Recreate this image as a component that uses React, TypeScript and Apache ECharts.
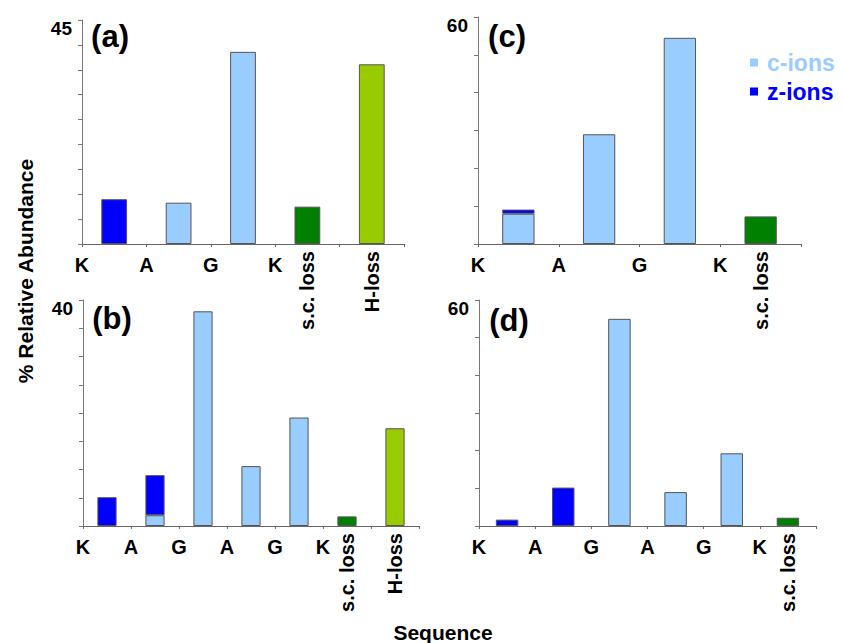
import React, { useEffect, useRef } from "react";
import * as echarts from "echarts";

const FONT = '"Liberation Sans", Arial, Helvetica, sans-serif';

// Panel (a)
const aLetters = ["K", "A", "G", "K"];
const aLabels = ["", "", "", "s.c. loss", "H-loss"];
const aC = [null, 8.3, 38.6, null, null];
const aZ = [9.0, null, null, null, null];
const aSC = [null, null, null, 7.5, null];
const aH = [null, null, null, null, 36.1];

// Panel (b)
const bLetters = ["K", "A", "G", "A", "G", "K"];
const bLabels = ["", "", "", "", "", "s.c. loss", "H-loss"];
const bC = [null, 1.9, 38.0, 10.6, 19.2, null, null];
const bZ = [5.1, 7.1, null, null, null, null, null];
const bSC = [null, null, null, null, null, 1.7, null];
const bH = [null, null, null, null, null, null, 17.3];

// Panel (c)
const cLetters = ["K", "A", "G", "K"];
const cLabels = ["", "", "", "s.c. loss"];
const cC = [8.0, 29.0, 54.5, null];
const cZ = [1.1, null, null, null];
const cSC = [null, null, null, 7.3];

// Panel (d)
const dLetters = ["K", "A", "G", "A", "G", "K"];
const dLabels = ["", "", "", "", "", "s.c. loss"];
const dC = [null, null, 55.0, 9.0, 19.3, null];
const dZ = [1.7, 10.2, null, null, null, null];
const dSC = [null, null, null, null, null, 2.2];

const COLORS = {
  c: "#99CCFF",
  z: "#0000FF",
  sc: "#008000",
  h: "#99CC00",
};

const panels = [
  { tag: "(a)", grid: { left: 82, top: 20, width: 322, height: 224 }, max: 45, interval: 5, letters: aLetters, labels: aLabels, c: aC, z: aZ, sc: aSC, h: aH, tagPos: [110, 36] },
  { tag: "(b)", grid: { left: 83, top: 300, width: 336, height: 226 }, max: 40, interval: 5, letters: bLetters, labels: bLabels, c: bC, z: bZ, sc: bSC, h: bH, tagPos: [112, 318] },
  { tag: "(c)", grid: { left: 478, top: 17, width: 323, height: 227 }, max: 60, interval: 10, letters: cLetters, labels: cLabels, c: cC, z: cZ, sc: cSC, h: null, tagPos: [507, 36] },
  { tag: "(d)", grid: { left: 479, top: 300, width: 337, height: 226 }, max: 60, interval: 10, letters: dLetters, labels: dLabels, c: dC, z: dZ, sc: dSC, h: null, tagPos: [509, 320] },
];

function buildOption() {
  const grid: any[] = [];
  const xAxis: any[] = [];
  const yAxis: any[] = [];
  const series: any[] = [];
  const graphic: any[] = [];

  panels.forEach((p, i) => {
    grid.push({ ...p.grid, containLabel: false });
    xAxis.push({
      type: "category",
      gridIndex: i,
      position: "bottom",
      data: p.labels,
      boundaryGap: true,
      axisLine: { show: true, lineStyle: { color: "#666", width: 1 } },
      axisTick: { show: true, length: 3, lineStyle: { color: "#666" } },
      axisLabel: {
        interval: 0,
        rotate: 90,
        margin: 7,
        fontSize: 20,
        fontWeight: "bold",
        fontFamily: FONT,
        color: "#000",
      },
      splitLine: { show: false },
    });
    const letters = p.letters;
    xAxis.push({
      type: "value",
      gridIndex: i,
      position: "bottom",
      min: 0,
      max: p.labels.length,
      interval: 1,
      axisLine: { show: false },
      axisTick: { show: false },
      splitLine: { show: false },
      axisLabel: {
        margin: 11,
        fontSize: 20,
        fontWeight: "bold",
        fontFamily: FONT,
        color: "#000",
        formatter: (v: number) => letters[Math.round(v)] ?? "",
      },
    });
    const max = p.max;
    yAxis.push({
      type: "value",
      gridIndex: i,
      min: 0,
      max: p.max,
      interval: p.interval,
      axisLine: { show: true, lineStyle: { color: "#777", width: 1 } },
      axisTick: { show: true, length: 4, lineStyle: { color: "#777" } },
      splitLine: { show: false },
      axisLabel: {
        margin: 10,
        fontSize: 19,
        fontWeight: "bold",
        fontFamily: FONT,
        color: "#000",
        verticalAlign: "top",
        lineHeight: 16,
        formatter: (v: number) => (v === max ? String(v) : ""),
      },
    });
    const common = {
      type: "bar",
      xAxisIndex: 2 * i,
      yAxisIndex: i,
      stack: "p" + i,
      barWidth: "40%",
    };
    series.push({ ...common, name: "c-ions", data: p.c, itemStyle: { color: COLORS.c, borderColor: "#555", borderWidth: 1 } });
    series.push({ ...common, name: "z-ions", data: p.z, itemStyle: { color: COLORS.z, borderColor: "#555", borderWidth: 1 } });
    series.push({ ...common, name: "s.c. loss", data: p.sc, itemStyle: { color: COLORS.sc, borderColor: "#555", borderWidth: 1 } });
    if (p.h) {
      series.push({ ...common, name: "H-loss", data: p.h, itemStyle: { color: COLORS.h, borderColor: "#555", borderWidth: 1 } });
    }
    graphic.push({
      type: "text",
      x: p.tagPos[0],
      y: p.tagPos[1],
      style: {
        text: p.tag,
        fill: "#000",
        font: `bold 31px ${FONT}`,
        align: "center",
        verticalAlign: "middle",
      },
    });
  });

  graphic.push({
    type: "text",
    x: 25,
    y: 271,
    rotation: Math.PI / 2,
    style: {
      text: "% Relative Abundance",
      fill: "#000",
      font: `bold 21px ${FONT}`,
      align: "center",
      verticalAlign: "middle",
    },
  });
  graphic.push({
    type: "text",
    x: 443,
    y: 632,
    style: {
      text: "Sequence",
      fill: "#000",
      font: `bold 21px ${FONT}`,
      align: "center",
      verticalAlign: "middle",
    },
  });

  return {
    animation: false,
    backgroundColor: "#fff",
    grid,
    xAxis,
    yAxis,
    series,
    graphic,
    legend: {
      orient: "vertical",
      left: 750,
      top: 51,
      padding: 0,
      itemWidth: 8,
      itemHeight: 8,
      itemGap: 6,
      selectedMode: false,
      icon: "rect",
      itemStyle: { borderWidth: 0 },
      textStyle: { fontSize: 23, fontWeight: "bold", fontFamily: FONT, padding: [0, 0, 0, 4] },
      data: [
        { name: "c-ions", textStyle: { color: COLORS.c } },
        { name: "z-ions", textStyle: { color: COLORS.z } },
      ],
    },
  };
}

export default function App() {
  const ref = useRef<HTMLDivElement>(null);
  useEffect(() => {
    if (!ref.current) return;
    const chart = echarts.init(ref.current, undefined, { renderer: "svg" });
    chart.setOption(buildOption() as any);
    return () => chart.dispose();
  }, []);
  return (
    <div
      ref={ref}
      style={{ position: "fixed", left: 0, top: 0, width: 843, height: 643, background: "#fff" }}
    />
  );
}
